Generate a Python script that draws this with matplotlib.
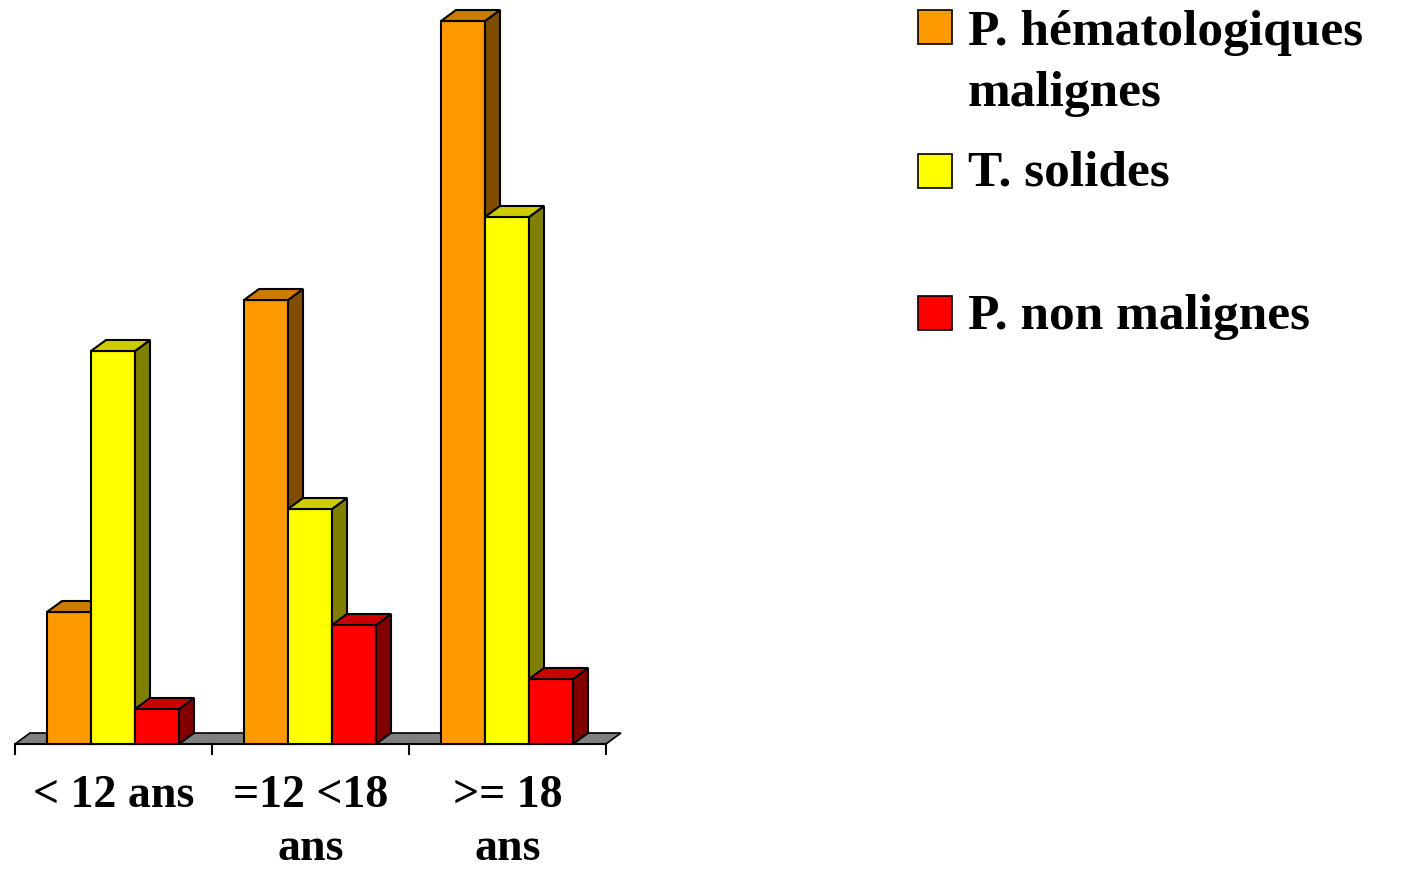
import matplotlib.pyplot as plt
from matplotlib.patches import Polygon, Rectangle

plt.rcParams['font.family'] = ['Liberation Serif', 'DejaVu Serif']
plt.rcParams['font.weight'] = 'bold'

# data (arbitrary units)
categories = ['< 12 ans', '=12 <18\nans', '>= 18\nans']
series = ['P. hématologiques\nmalignes', 'T. solides', 'P. non malignes']
hemato = [13.2, 44.4, 72.3]
solides = [39.3, 23.5, 52.7]
non_malignes = [3.5, 11.9, 6.5]

front = ['#FF9900', '#FFFF00', '#FF0000']
top = ['#CC7A00', '#CCCC00', '#CC0000']
side = ['#7F4C00', '#808000', '#800000']

W, H = 1403, 870
fig = plt.figure(figsize=(W / 100, H / 100), dpi=100)
ax = fig.add_axes([0, 0, 1, 1])
ax.set_xlim(-15 / 197, (W - 15) / 197)
ax.set_ylim(-12.5, 74.5)
ax.axis('off')

dx, dy = 15 / 197, 1.1
bw = 44 / 197
start = 32 / 197

# floor
ax.add_patch(Polygon([(0, 0), (3, 0), (3 + dx, dy), (dx, dy)], closed=True,
                     facecolor='#808080', edgecolor='black', lw=1.2, zorder=1))
ax.plot([0, 3], [0, 0], color='black', lw=1.5, zorder=1)
for t in range(4):
    ax.plot([t, t], [0, -1.0], color='black', lw=1.5, zorder=1)

data = [hemato, solides, non_malignes]
for i in range(len(categories)):
    for j, vals in enumerate(data):
        x0 = i + start + j * bw
        v = vals[i]
        z = 2 + j
        ax.add_patch(Rectangle((x0, 0), bw, v, facecolor=front[j],
                               edgecolor='black', lw=1.5, zorder=z))
        ax.add_patch(Polygon([(x0 + bw, 0), (x0 + bw + dx, dy), (x0 + bw + dx, v + dy), (x0 + bw, v)],
                             closed=True, facecolor=side[j], edgecolor='black', lw=1.5, zorder=z))
        ax.add_patch(Polygon([(x0, v), (x0 + dx, v + dy), (x0 + bw + dx, v + dy), (x0 + bw, v)],
                             closed=True, facecolor=top[j], edgecolor='black', lw=1.5, zorder=z))
    ax.text(i + 0.5, -3.0, categories[i], ha='center', va='top', fontsize=33,
            fontweight='bold', linespacing=1.33)

# legend
leg_y = [28, 172, 314]
text_dy = [-18, -22, -20]
for k, name in enumerate(series):
    yc = leg_y[k]
    fig.patches.append(Rectangle((918 / W, 1 - (yc + 17) / H), 34 / W, 34 / H,
                                 transform=fig.transFigure, facecolor=front[k],
                                 edgecolor='black', lw=1.2))
    fig.text(968 / W, 1 - (yc + text_dy[k]) / H, name, ha='left', va='top', fontsize=37,
             fontweight='bold', linespacing=1.43)

fig.savefig('out.png', dpi=100)
